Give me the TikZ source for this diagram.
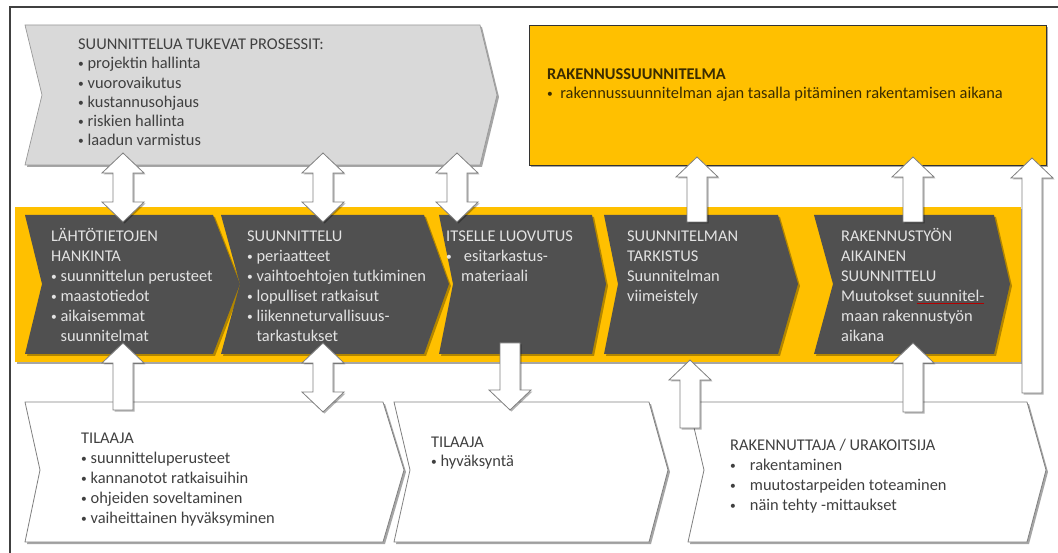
\documentclass[tikz,border=0pt]{standalone}
\usepackage{fontspec}
\usepackage{graphicx}
\setmainfont{Carlito}
\usetikzlibrary{shadows}
\definecolor{gold}{HTML}{FFC000}
\definecolor{darkchev}{HTML}{505050}
\definecolor{lightchev}{HTML}{D9D9D9}
\definecolor{outl}{HTML}{808080}
\definecolor{txtdark}{HTML}{404040}
\definecolor{txtlight}{HTML}{E3E3E3}
\definecolor{txtbrown}{HTML}{3A2C00}
\newlength{\ulwidth}
\newcommand{\bul}{\raisebox{1pt}{\scalebox{0.7}{•}}}
\newcommand{\redul}[1]{\settowidth{\ulwidth}{#1}\rlap{\textcolor{red!70!black}{\rule[-3pt]{\ulwidth}{1pt}}}#1}
\newcommand{\UpArr}[3]{\draw[blockarr] (#1-10,#3) -- (#1-10,#2+20) -- (#1-21,#2+20) -- (#1,#2) -- (#1+21,#2+20) -- (#1+10,#2+20) -- (#1+10,#3) -- cycle;}
\newcommand{\DownArr}[3]{\draw[blockarr] (#1-10,#2) -- (#1-10,#3-20) -- (#1-21,#3-20) -- (#1,#3) -- (#1+21,#3-20) -- (#1+10,#3-20) -- (#1+10,#2) -- cycle;}
\newcommand{\DblArr}[3]{\draw[blockarr] (#1,#2) -- (#1+21,#2+20) -- (#1+10,#2+20) -- (#1+10,#3-20) -- (#1+21,#3-20) -- (#1,#3) -- (#1-21,#3-20) -- (#1-10,#3-20) -- (#1-10,#2+20) -- (#1-21,#2+20) -- cycle;}
\tikzset{
  shad/.style={drop shadow={shadow xshift=2pt,shadow yshift=-2pt,opacity=.35,fill=black}},
  graychev/.style={fill=lightchev,draw=black!40,line width=0.7pt,shad},
  whitechev/.style={fill=white,draw=outl,line width=0.8pt,shad},
  darkchevron/.style={fill=darkchev,draw=none,drop shadow={shadow xshift=2pt,shadow yshift=-2pt,opacity=.3,fill=black}},
  yellowbox/.style={fill=gold,draw=black!80,line width=0.8pt,shad},
  blockarr/.style={fill=white,draw=outl,line width=0.8pt,line join=miter,drop shadow={shadow xshift=1.5pt,shadow yshift=-1.5pt,opacity=.3,fill=black}},
  txt/.style={font=\fontsize{16.4}{20}\selectfont,align=left,anchor=north west,inner sep=0pt},
  txtg/.style={txt,font=\fontsize{16.4}{19.2}\selectfont},
}
\begin{document}
\begin{tikzpicture}[x=1pt,y=-1pt]
\useasboundingbox (0,0) rectangle (1058,553);
\fill[white] (0,0) rectangle (1058,553);
\draw[line width=2pt,black!75] (10,553) -- (10,7) -- (1058,7);

% top gray chevron
\draw[graychev] (25,25) -- (480,25) -- (497,95) -- (480,165) -- (25,165) -- (42,95) -- cycle;
\node[txtg,text=txtdark] (support) at (78,36) {\strut SUUNNITTELUA TUKEVAT PROSESSIT:\\ \bul\ projektin hallinta\\ \bul\ vuorovaikutus\\ \bul\ kustannusohjaus\\ \bul\ riskien hallinta\\ \bul\ laadun varmistus};

% yellow box
\draw[yellowbox] (529,25) rectangle (1046,165);
\node[txt,text=txtbrown,font=\fontsize{16.4}{19}\selectfont] (rakenn) at (547,66) {\strut\textbf{RAKENNUSSUUNNITELMA}\\ \bul\ \ rakennussuunnitelman ajan tasalla pitäminen rakentamisen aikana};

% band
\fill[gold,shad] (15,207) rectangle (1021,362);

% dark chevrons
\path[darkchevron] (25,215) -- (213,215) -- (240,284) -- (213,354) -- (25,354) -- (42,284) -- cycle;
\path[darkchevron] (221,215) -- (424,215) -- (449,284) -- (424,354) -- (221,354) -- (240,284) -- cycle;
\path[darkchevron] (439,215) -- (592,215) -- (606,284) -- (592,354) -- (439,354) -- (453,284) -- cycle;
\path[darkchevron] (604,215) -- (778,215) -- (798,284) -- (778,354) -- (604,354) -- (618,284) -- cycle;
\path[darkchevron] (814,215) -- (994,215) -- (1010,284) -- (994,354) -- (814,354) -- (833,284) -- cycle;

\node[txt,text=txtlight] (c1) at (51,227) {\strut LÄHTÖTIETOJEN\\ HANKINTA\\ \bul\ suunnittelun perusteet\\ \bul\ maastotiedot\\ \bul\ aikaisemmat\\ \phantom{\bul\ }suunnitelmat};
\node[txt,text=txtlight] (c2) at (247,227) {\strut SUUNNITTELU\\ \bul\ periaatteet\\ \bul\ vaihtoehtojen tutkiminen\\ \bul\ lopulliset ratkaisut\\ \bul\ liikenneturvallisuus-\\ \phantom{\bul\ }tarkastukset};
\node[txt,text=txtlight] (c3) at (446,227) {\strut ITSELLE LUOVUTUS\\ \bul\hspace{12pt}esitarkastus-\\ \hspace{15pt}materiaali};
\node[txt,text=txtlight] (c4) at (627,227) {\strut SUUNNITELMAN\\ TARKISTUS\\ Suunnitelman\\ viimeistely};
\node[txt,text=txtlight] (c5) at (841,227) {\strut RAKENNUSTYÖN\\ AIKAINEN\\ SUUNNITTELU\\ Muutokset \redul{suunnitel-}\\ maan rakennustyön\\ aikana};

% bottom white chevrons
\draw[whitechev] (25,402) -- (383,402) -- (404,470) -- (383,542) -- (25,542) -- (40,470) -- cycle;
\draw[whitechev] (394,402) -- (649,402) -- (668,470) -- (649,542) -- (394,542) -- (410,470) -- cycle;
\draw[whitechev] (688,402) -- (1027,402) -- (1046,470) -- (1027,542) -- (688,542) -- (704,470) -- cycle;

\node[txt,text=txtdark] (w1) at (81,429) {\strut TILAAJA\\ \bul\ suunnitteluperusteet\\ \bul\ kannanotot ratkaisuihin\\ \bul\ ohjeiden soveltaminen\\ \bul\ vaiheittainen hyväksyminen};
\node[txt,text=txtdark,font=\fontsize{16.4}{19}\selectfont] (w2) at (431,434) {\strut TILAAJA\\ \bul\ hyväksyntä};
\node[txt,text=txtdark] (w3) at (730,436) {\strut RAKENNUTTAJA / URAKOITSIJA\\ \bul\hspace{14pt}rakentaminen\\ \bul\hspace{14pt}muutostarpeiden toteaminen\\ \bul\hspace{14pt}näin tehty -mittaukset};

% arrows top
\DblArr{123}{153}{222}
\DblArr{323}{153}{222}
\DblArr{457}{153}{222}
\UpArr{697}{157}{222}
\UpArr{913}{157}{222}
\UpArr{1032}{158}{393}
% arrows bottom
\UpArr{123}{343}{410}
\DblArr{323}{343}{412}
\DownArr{510}{343}{410}
\UpArr{690}{360}{428}
\UpArr{913}{343}{412}
\end{tikzpicture}
\end{document}
